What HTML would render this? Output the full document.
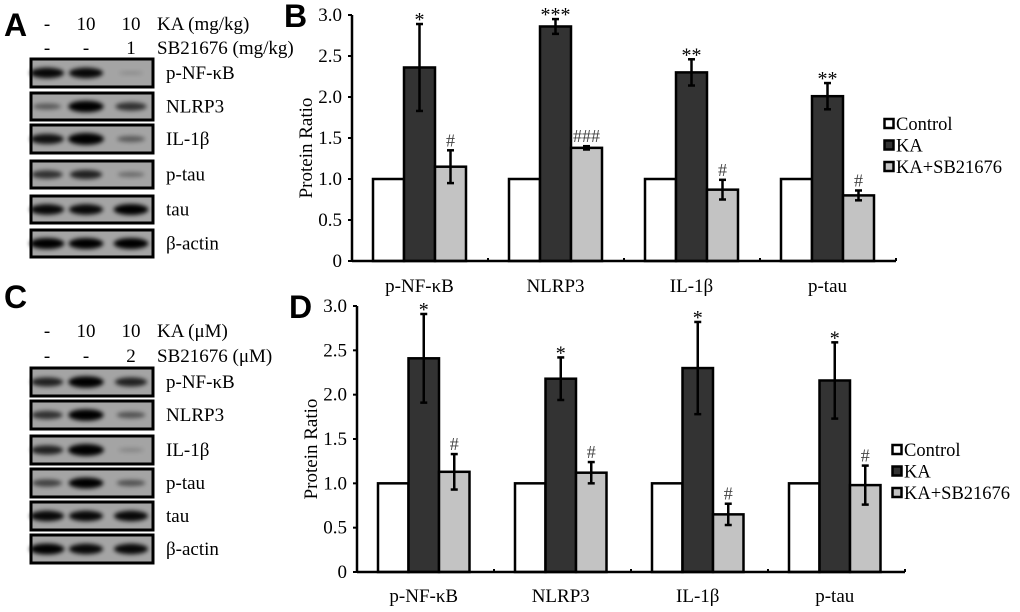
<!DOCTYPE html>
<html><head><meta charset="utf-8">
<style>
html,body{margin:0;padding:0;background:#fff;}
svg{display:block;font-family:"Liberation Serif",serif;}
.pl{font-family:"Liberation Sans",sans-serif;font-weight:bold;font-size:32px;}
</style></head>
<body>
<svg id="fig" width="1020" height="612" viewBox="0 0 1020 612" xmlns="http://www.w3.org/2000/svg">
<defs>
<filter id="bl" x="-50%" y="-100%" width="200%" height="300%"><feGaussianBlur stdDeviation="2.2"/></filter>
</defs>
<g id="blots"></g>
<g id="chartB"></g>
<g id="chartD"></g>
</svg>
<script>
// ---- chart data ----
const categories = ["p-NF-\u03baB","NLRP3","IL-1\u03b2","p-tau"];
const seriesNames = ["Control","KA","KA+SB21676"];
const yTicks = [0,0.5,1.0,1.5,2.0,2.5,3.0];
const yTickLabels = ["0","0.5","1.0","1.5","2.0","2.5","3.0"];
const bControl = [1,1,1,1];
const bKA = [2.36,2.86,2.30,2.01];
const bKASB = [1.15,1.38,0.87,0.80];
const bKAErr = [0.53,0.09,0.16,0.16];
const bKASBErr = [0.20,0.02,0.12,0.06];
const bKAMark = ["*","***","**","**"];
const bKASBMark = ["#","###","#","#"];
const dControl = [1,1,1,1];
const dKA = [2.41,2.18,2.30,2.16];
const dKASB = [1.13,1.12,0.65,0.98];
const dKAErr = [0.50,0.24,0.52,0.43];
const dKASBErr = [0.20,0.12,0.12,0.22];
const dKAMark = ["*","*","*","*"];
const dKASBMark = ["#","#","#","#"];
// blot band intensities (0..1) per row [lane1,lane2,lane3]
const blotRows = ["p-NF-\u03baB","NLRP3","IL-1\u03b2","p-tau","tau","\u03b2-actin"];
const blotA = [[0.85,0.85,0.05],[0.35,0.95,0.6],[0.8,1,0.35],[0.6,0.7,0.25],[0.85,0.85,0.9],[0.9,0.9,0.9]];
const blotC = [[0.7,0.95,0.7],[0.6,0.95,0.4],[0.7,1,0.1],[0.5,0.9,0.4],[0.85,0.85,0.85],[0.9,0.85,0.85]];

const NS="http://www.w3.org/2000/svg";
function mk(tag,attrs,parent,text){const e=document.createElementNS(NS,tag);for(const k in attrs)e.setAttribute(k,attrs[k]);if(text!==undefined)e.textContent=text;parent.appendChild(e);return e;}

// ---- blots ----
const blots=document.getElementById('blots');
function drawPanel(letter,ly,hdr1,hdr2,h1y,h2y,rowsY,data){
  const g=mk('g',{},blots);
  
  
  const t=mk('text',{x:4,y:ly,class:'pl'},g,letter);
  
  
  const lanes=[47,86,131];
  const h1=["-","10","10"];
  lanes.forEach((x,i)=>{mk('text',{x:x,y:h1y,'font-size':19,'text-anchor':'middle'},g,h1[i]);mk('text',{x:x,y:h2y,'font-size':19,'text-anchor':'middle'},g,hdr2[0][i]);});
  const a=mk('text',{x:157,y:h1y,'font-size':19},g,hdr1);
  
  const b=mk('text',{x:157,y:h2y,'font-size':19},g,hdr2[1]);
  
  rowsY.forEach((r,ri)=>{
    const box=mk('g',{},g);
    
    
    mk('rect',{x:31,y:r[0],width:122,height:r[1]-r[0],fill:'#a4a4a4',stroke:'#000','stroke-width':3},box);
    const cy=(r[0]+r[1])/2;
    data[ri].forEach((v,li)=>{
      mk('ellipse',{cx:lanes[li],cy:cy,rx:12+6*v,ry:1.5+4.5*v,fill:'#000',opacity:Math.min(1,0.1+v),filter:'url(#bl)'},box);
    });
    mk('text',{x:166,y:cy+6,'font-size':19},box,blotRows[ri]);
  });
}
drawPanel('A',36,'KA (mg/kg)',[["-","-","1"],'SB21676 (mg/kg)'],30,54,
  [[59,87],[93,120],[125,153],[161,188],[196,223],[230,257]],blotA);
drawPanel('C',308,'KA (\u03bcM)',[["-","-","2"],'SB21676 (\u03bcM)'],337,362,
  [[368,396],[401,429],[436,464],[469,497],[502,530],[535,563]],blotC);

// ---- charts ----
function drawChart(id,letter,o,ctrl,ka,kasb,kaErr,kasbErr,kaMark,kasbMark){
  const g=document.getElementById(id);
  
  
  const y=v=>o.y0-(v/3)*(o.y0-o.y3);
  const x=(ci,si)=>o.x0+o.pad+ci*o.band+si*o.bw;
  const pl=mk('text',{x:o.x0-68,y:o.y3+12,class:'pl'},g,letter);
  
  
  yTicks.forEach((t,i)=>{
    mk('line',{x1:o.x0-4,x2:o.x0,y1:y(t),y2:y(t),stroke:'#000','stroke-width':2},g);
    const tl=mk('text',{x:o.x0-10,y:y(t)+6,'font-size':19,'text-anchor':'end'},g,yTickLabels[i]);
    
    
  });
  const yt=mk('text',{transform:`translate(${o.x0-40},${(o.y0+o.y3)/2+10}) rotate(-90)`,'font-size':19,'text-anchor':'middle'},g,'Protein Ratio');
  
  
  const series=[ctrl,ka,kasb], fills=['#fff','#333','#c3c3c3'];
  categories.forEach((c,ci)=>{
    series.forEach((s,si)=>{
      const r=mk('rect',{x:x(ci,si),y:y(s[ci]),width:o.bw,height:y(0)-y(s[ci]),fill:fills[si],stroke:'#000','stroke-width':2.5},g);
      
      
    });
    [[1,ka,kaErr,kaMark],[2,kasb,kasbErr,kasbMark]].forEach(([si,s,e,m])=>{
      const cx=x(ci,si)+o.bw/2, t=y(s[ci]+e[ci]), b=y(s[ci]-e[ci]);
      const eb=mk('g',{stroke:'#000','stroke-width':2.5},g);
      
      
      mk('line',{x1:cx,x2:cx,y1:t,y2:b},eb);
      mk('line',{x1:cx-3.5,x2:cx+3.5,y1:t,y2:t},eb);
      mk('line',{x1:cx-3.5,x2:cx+3.5,y1:b,y2:b},eb);
      const star=m[ci].startsWith('*');
      const sig=mk('text',{x:cx,y:t-(star?-2:4),'font-size':star?20:18,'text-anchor':'middle',fill:star?'#000':'#444'},g,m[ci]);
      
      
    });
    const cl=mk('text',{x:x(ci,1)+o.bw/2,y:o.catY,'font-size':19,'text-anchor':'middle'},g,c);
    
    
    mk('line',{x1:o.x0+(ci+1)*o.band,x2:o.x0+(ci+1)*o.band,y1:o.y0,y2:o.y0-3,stroke:'#000','stroke-width':2},g);
  });
  mk('line',{x1:o.x0,x2:o.x0,y1:o.y3,y2:o.y0,stroke:'#000','stroke-width':2.5},g);
  mk('line',{x1:o.x0,x2:o.x0+4*o.band,y1:o.y0,y2:o.y0,stroke:'#000','stroke-width':2.5},g);
  const lg=mk('g',{},g);
  
  
  seriesNames.forEach((n,i)=>{
    const e=mk('g',{},lg);
    
    
    const yy=o.legY+i*21.5;
    mk('rect',{x:o.legX+1.5,y:yy-5,width:9,height:9,fill:fills[i],stroke:'#000','stroke-width':2.5},e);
    mk('text',{x:o.legX+13,y:yy+6,'font-size':18.5},e,n);
  });
}
drawChart('chartB','B',{x0:352,y0:261,y3:15,pad:21,band:136,bw:31,catY:292,legX:883,legY:124},
  bControl,bKA,bKASB,bKAErr,bKASBErr,bKAMark,bKASBMark);
drawChart('chartD','D',{x0:357,y0:572,y3:306,pad:21,band:137,bw:30.5,catY:602,legX:891,legY:450},
  dControl,dKA,dKASB,dKAErr,dKASBErr,dKAMark,dKASBMark);
</script>
</body></html>
